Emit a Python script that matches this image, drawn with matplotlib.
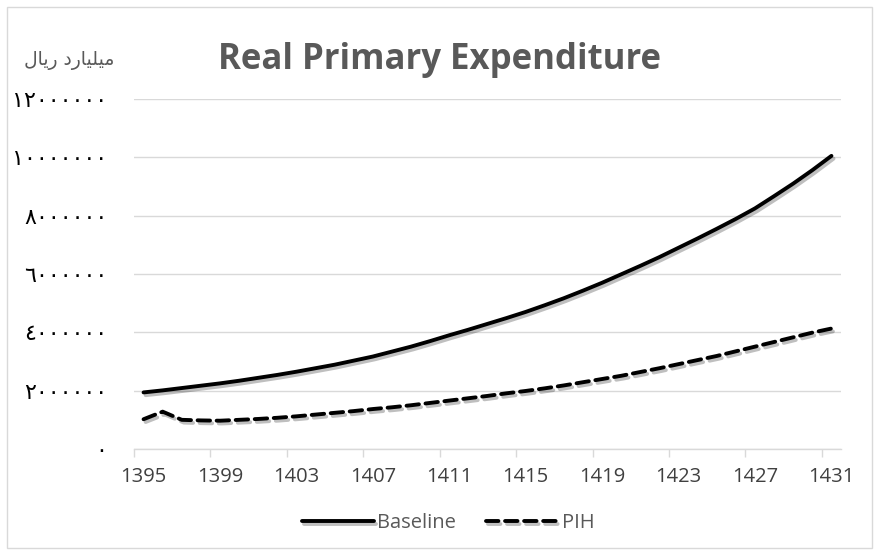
import matplotlib
matplotlib.use("Agg")
import matplotlib.pyplot as plt
import matplotlib.patheffects as pe
from matplotlib.patches import Rectangle

years = list(range(1395, 1432))
baseline = [1.94, 2.01, 2.09, 2.17, 2.25, 2.34, 2.44, 2.54, 2.65, 2.77,
            2.89, 3.03, 3.17, 3.34, 3.51, 3.70, 3.90, 4.09, 4.29, 4.49,
            4.70, 4.93, 5.17, 5.43, 5.70, 5.99, 6.28, 6.58, 6.90, 7.22,
            7.55, 7.89, 8.25, 8.67, 9.10, 9.56, 10.05]
pih = [1.02, 1.28, 1.00, 0.98, 0.97, 1.00, 1.03, 1.07, 1.12, 1.18,
       1.24, 1.30, 1.37, 1.43, 1.50, 1.58, 1.66, 1.74, 1.82, 1.91,
       1.99, 2.08, 2.18, 2.29, 2.40, 2.51, 2.64, 2.77, 2.91, 3.05,
       3.19, 3.35, 3.51, 3.67, 3.83, 3.99, 4.13]
baseline = [v * 1e6 for v in baseline]
pih = [v * 1e6 for v in pih]
yticks = [0, 2000000, 4000000, 6000000, 8000000, 10000000, 12000000]
ytick_labels = ["٠", "٢٠٠٠٠٠٠", "٤٠٠٠٠٠٠", "٦٠٠٠٠٠٠", "٨٠٠٠٠٠٠", "١٠٠٠٠٠٠٠", "١٢٠٠٠٠٠٠"]
title = "Real Primary Expenditure"
# "میلیارد ریال" in shaped presentation forms, visual (left-to-right) order
unit_label = "\uFEDD\uFE8E\uFBFE\uFEAD \uFEA9\uFEAD\uFE8E\uFBFF\uFEE0\uFBFF\uFEE3"

W, H = 879, 555
fig = plt.figure(figsize=(W / 100, H / 100), dpi=100)
fig.patch.set_facecolor("white")
fig.add_artist(Rectangle((7 / W, 7 / H), 865 / W, 541 / H, transform=fig.transFigure,
                         fill=False, edgecolor="#d9d9d9", linewidth=1))

left, right = 134 / W, 841 / W
bottom, top = 1 - 449 / H, 1 - 99 / H
ax = fig.add_axes([left, bottom, right - left, top - bottom])

x = list(range(len(years)))
shadow = [pe.SimpleLineShadow(offset=(1.5, -2), shadow_color="black", alpha=0.25, rho=1.0),
          pe.Normal()]
ax.plot(x, baseline, color="black", lw=2.8, solid_capstyle="round",
        path_effects=shadow, label="Baseline", zorder=3)
ax.plot(x, pih, color="black", lw=2.8, linestyle=(0, (3.2, 1.7)), dash_capstyle="round",
        path_effects=shadow, label="PIH", zorder=3)

ax.set_xlim(-0.5, len(years) - 0.5)
ax.set_ylim(0, 12000000)

ax.set_yticks(yticks)
ax.set_yticklabels(ytick_labels, fontfamily="DejaVu Sans", fontsize=16, color="black")
ax.tick_params(axis="y", length=0, pad=19)
ax.yaxis.grid(True, color="#d9d9d9", linewidth=1)
ax.set_axisbelow(True)

ax.set_xticks(x[::4])
ax.set_xticklabels([str(y) for y in years[::4]], fontfamily="Open Sans", fontsize=14.5, color="#404040")
ax.set_xticks([i - 0.5 for i in x[::4]], minor=True)
ax.tick_params(axis="x", which="major", length=0, pad=13)
ax.tick_params(axis="x", which="minor", length=6, color="#d9d9d9", width=1)

for s in ["top", "right", "left"]:
    ax.spines[s].set_visible(False)
ax.spines["bottom"].set_color("#d9d9d9")
ax.spines["bottom"].set_linewidth(1)

fig.text(440 / W, 1 - 60 / H, title, ha="center", va="center", fontsize=25,
         fontweight="bold", color="#595959", fontfamily="Open Sans")
fig.text(69 / W, 1 - 61 / H, unit_label, ha="center", va="center", fontsize=13.5,
         color="#595959", fontfamily="DejaVu Sans")

leg = fig.legend(loc="center", bbox_to_anchor=(448 / W, 1 - 523 / H), ncol=2, frameon=False,
                 handlelength=3.6, handletextpad=0.15, columnspacing=1.5,
                 prop={"family": "Open Sans", "size": 14.5})
for t in leg.get_texts():
    t.set_color("#595959")

fig.savefig("out.png", dpi=100, facecolor="white")
